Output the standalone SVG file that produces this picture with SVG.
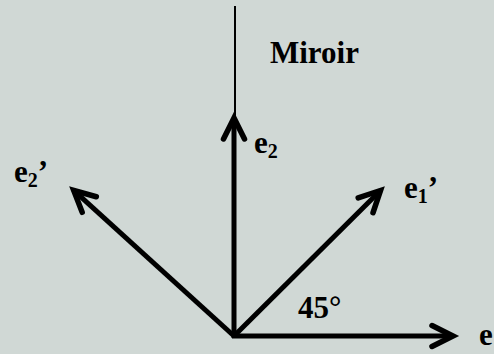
<svg xmlns="http://www.w3.org/2000/svg" width="494" height="354" viewBox="0 0 494 354">
  <style>
    .t { font-family: "Liberation Serif", "Times New Roman", serif; font-weight: bold; font-size: 31px; fill: #000; }
    .sub { font-size: 20px; }
    .vec { fill: none; stroke: #000; stroke-width: 5; marker-end: url(#ah); }
  </style>
  <defs>
    <marker id="ah" markerUnits="userSpaceOnUse" markerWidth="40" markerHeight="40" viewBox="-30 -20 40 40" refX="0" refY="0" orient="auto" overflow="visible">
      <path d="M-21,-10.5 L0,0 L-21,10.5" fill="none" stroke="#000" stroke-width="5.5" stroke-linejoin="miter" stroke-linecap="round"/>
    </marker>
  </defs>
  <rect width="494" height="354" fill="#D0D8D5"/>
  <g id="connectors">
    <line id="mirror-line" x1="235" y1="6" x2="235" y2="120" stroke="#000" stroke-width="2"/>
    <line id="vec-e1" class="vec" x1="232" y1="336" x2="453" y2="336"/>
    <line id="vec-e2" class="vec" x1="234" y1="338" x2="234" y2="118"/>
    <line id="vec-e1p" class="vec" x1="234" y1="336" x2="380.5" y2="190.5"/>
    <line id="vec-e2p" class="vec" x1="234" y1="336" x2="73.7" y2="190.4"/>
  </g>
  <g id="label-miroir"><text class="t" x="270" y="63">Miroir</text></g>
  <g id="label-e2"><text class="t" x="254" y="153">e<tspan class="sub" dy="5">2</tspan></text></g>
  <g id="label-e2p"><text class="t" x="14" y="182">e<tspan class="sub" dy="5">2</tspan><tspan dy="-5">’</tspan></text></g>
  <g id="label-e1p"><text class="t" x="404" y="198">e<tspan class="sub" dy="5">1</tspan><tspan dy="-5">’</tspan></text></g>
  <g id="label-45"><text class="t" x="298" y="318">45°</text></g>
  <g id="label-e1"><text class="t" x="479" y="345">e</text></g>
</svg>
